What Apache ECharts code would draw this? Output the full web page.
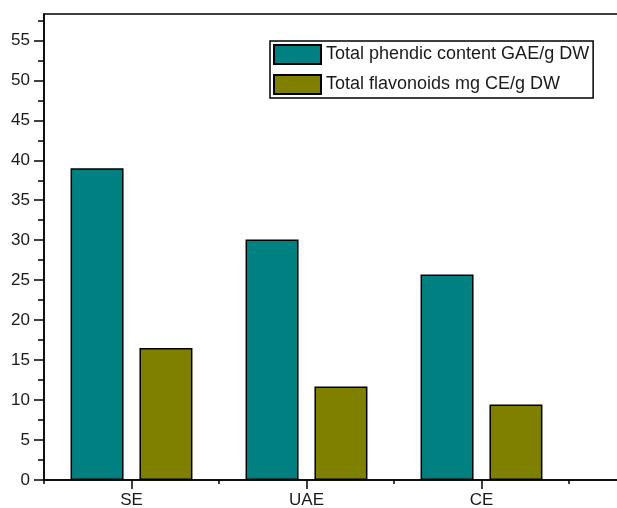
<!DOCTYPE html>
<html lang="en">

<head>
  <meta charset="UTF-8">
  <title>Phenolic and flavonoid content</title>
  <script src="https://cdn.jsdelivr.net/npm/echarts@6/dist/echarts.min.js"></script>
</head>

<body style="margin:0">
  <div id="chart" style="width:617px;height:508px"></div>
  <script>
    // extraction methods (last slot is empty, the frame runs past the picture edge)
    var categories = ['SE', 'UAE', 'CE', '']
    var phenolic = [39.0, 30.1, 25.7, '-']
    var flavonoids = [16.5, 11.7, 9.45, '-']
    var yTicks = [0, 5, 10, 15, 20, 25, 30, 35, 40, 45, 50, 55]
    // group centres in half-category units (0..8 spans the 4 slots)
    var centreTicks = [1, 3, 5, 7]

    var font = 'Liberation Sans, Arial, sans-serif'
    var mCharts = echarts.init(document.getElementById('chart'))

    var option = {
      animation: false,
      backgroundColor: '#fff',
      grid: {
        left: 44,
        top: 14,
        bottom: 28,
        width: 700,
        outerBoundsMode: 'none',
        containLabel: false,
        show: true,
        borderColor: '#000',
        borderWidth: 1.5
      },
      legend: {
        orient: 'vertical',
        left: 270,
        top: 41,
        padding: [3, 4, 3, 3],
        itemGap: 9,
        itemWidth: 47,
        itemHeight: 19,
        icon: 'rect',
        borderColor: '#000',
        borderWidth: 1.5,
        textStyle: { fontFamily: font, fontSize: 18, color: '#1a1a1a' },
        data: ['Total phendic content GAE/g DW', 'Total flavonoids mg CE/g DW']
      },
      xAxis: [
        {
          type: 'category',
          data: categories,
          axisLine: { lineStyle: { color: '#000', width: 1.5 } },
          axisTick: { show: true, interval: 0, length: 4, lineStyle: { color: '#000', width: 1.5 } },
          axisLabel: { margin: 12, interval: 0, fontFamily: font, fontSize: 17, color: '#1a1a1a' }
        },
        {
          // long ticks under the group labels
          type: 'value',
          position: 'bottom',
          offset: 0,
          min: 0,
          max: 8,
          interval: 1,
          splitLine: { show: false },
          axisLine: { show: false },
          axisTick: { show: true, customValues: centreTicks, length: 9, lineStyle: { color: '#000', width: 1.5 } },
          axisLabel: { show: false }
        }
      ],
      yAxis: {
        type: 'value',
        min: 0,
        max: 58.3,
        interval: 5,
        splitLine: { show: false },
        axisLine: { show: true, lineStyle: { color: '#000', width: 1.5 } },
        axisTick: { show: true, length: 10, customValues: yTicks, lineStyle: { color: '#000', width: 1.5 } },
        minorTick: { show: true, splitNumber: 2, length: 6, lineStyle: { color: '#000', width: 1.5 } },
        axisLabel: { margin: 14, customValues: yTicks, fontFamily: font, fontSize: 17, color: '#1a1a1a' }
      },
      series: [
        {
          name: 'Total phendic content GAE/g DW',
          type: 'bar',
          data: phenolic,
          barWidth: 53,
          barGap: '30%',
          itemStyle: { color: '#008080', borderColor: '#000', borderWidth: 1.5 }
        },
        {
          name: 'Total flavonoids mg CE/g DW',
          type: 'bar',
          data: flavonoids,
          barWidth: 53,
          itemStyle: { color: '#808000', borderColor: '#000', borderWidth: 1.5 }
        }
      ]
    }
    mCharts.setOption(option)
  </script>
</body>

</html>
